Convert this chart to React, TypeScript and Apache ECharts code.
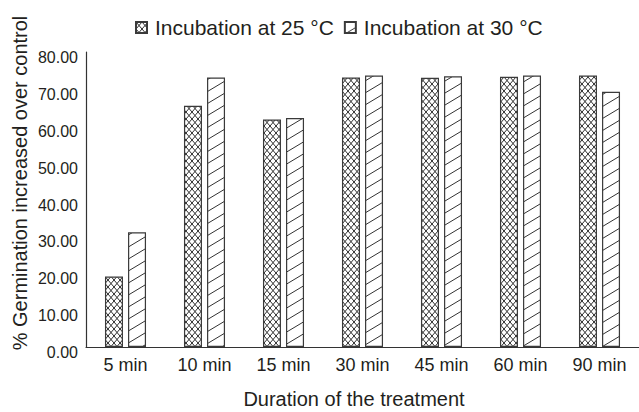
import React, { useEffect, useRef } from "react";
import * as echarts from "echarts";

const categories = ["5 min", "10 min", "15 min", "30 min", "45 min", "60 min", "90 min"];
const seriesNames = ["Incubation at 25 °C", "Incubation at 30 °C"];
const values25 = [19.1, 65.4, 61.7, 73.1, 73.0, 73.3, 73.6];
const values30 = [31.1, 73.1, 62.1, 73.6, 73.4, 73.6, 69.2];
const yTicks = { min: 0, max: 80, interval: 10 };
const xTitle = "Duration of the treatment";
const yTitle = "% Germination increased over control";

const FONT = "'Liberation Sans', Arial, Helvetica, sans-serif";
const INK = "#231f20";

function svgUrl(w: number, h: number, body: string) {
  const s = `<svg xmlns='http://www.w3.org/2000/svg' width='${w}' height='${h}'><rect width='${w}' height='${h}' fill='white'/>${body}</svg>`;
  return "data:image/svg+xml;charset=utf-8," + encodeURIComponent(s);
}

const crossTile = svgUrl(
  6,
  7,
  "<path d='M-1,-1.167 L7,8.167 M-1,8.167 L7,-1.167 M-1,1.167 L1,-1.167 M5,8.167 L7,5.833 M5,-1.167 L7,1.167 M-1,5.833 L1,8.167' stroke='#2e2e2e' stroke-width='1' fill='none'/>"
);
const diagTile = svgUrl(
  20,
  12,
  "<path d='M-4,14.4 L24,-2.4 M-4,2.4 L4,-2.4 M16,14.4 L24,9.6' stroke='#333' stroke-width='1' fill='none'/>"
);

export default function App() {
  const ref = useRef<HTMLDivElement>(null);
  useEffect(() => {
    if (!ref.current) return;
    const chart = echarts.init(ref.current, undefined, { renderer: "svg" });
    const crossFill: any = { image: crossTile, repeat: "repeat", imageWidth: 6, imageHeight: 7 };
    const diagFill: any = { image: diagTile, repeat: "repeat", imageWidth: 20, imageHeight: 12 };
    chart.setOption({
      animation: false,
      backgroundColor: "#ffffff",
      textStyle: { fontFamily: FONT, color: INK },
      legend: {
        left: 130,
        top: 12,
        icon: "rect",
        itemWidth: 11,
        itemHeight: 11,
        itemGap: 10,
        selectedMode: false,
        textStyle: { fontSize: 21, color: INK, fontFamily: FONT, padding: [0, 0, 0, 3] },
        data: seriesNames,
      },
      grid: { left: 86, right: -12, top: 52, bottom: 65, containLabel: false },
      xAxis: {
        type: "category",
        data: categories,
        axisLine: { show: true, lineStyle: { color: "#333", width: 1.2 } },
        axisTick: { show: false },
        axisLabel: { fontSize: 18, color: INK, margin: 9, fontFamily: FONT },
      },
      yAxis: {
        type: "value",
        min: yTicks.min,
        max: yTicks.max,
        interval: yTicks.interval,
        axisLine: { show: true, lineStyle: { color: "#333", width: 1.2 } },
        axisTick: { show: false },
        splitLine: { show: false },
        axisLabel: {
          color: INK,
          margin: 8,
          formatter: (v: number) => "{v|" + v.toFixed(2) + "}",
          rich: {
            v: {
              fontSize: 16,
              color: INK,
              fontFamily: FONT,
              padding: [11, 0, 0, 0],
            },
          },
        },
      },
      graphic: [
        {
          type: "text",
          x: 20,
          y: 183,
          rotation: Math.PI / 2,
          style: {
            text: yTitle,
            fontSize: 20,
            fontFamily: FONT,
            fill: INK,
            align: "center",
            verticalAlign: "middle",
          },
        },
        {
          type: "text",
          x: 354,
          y: 399,
          style: {
            text: xTitle,
            fontSize: 20,
            fontFamily: FONT,
            fill: INK,
            align: "center",
            verticalAlign: "middle",
          },
        },
      ],
      series: [
        {
          name: seriesNames[0],
          type: "bar",
          data: values25,
          barWidth: 18,
          barGap: "28%",
          itemStyle: { color: crossFill, borderColor: "#3a3a3a", borderWidth: 1.2 },
        },
        {
          name: seriesNames[1],
          type: "bar",
          data: values30,
          barWidth: 18,
          barGap: "28%",
          itemStyle: { color: diagFill, borderColor: "#3a3a3a", borderWidth: 1.2 },
        },
      ],
    });
    return () => chart.dispose();
  }, []);
  return (
    <div
      ref={ref}
      style={{ position: "fixed", left: 0, top: 0, width: 639, height: 412 }}
    />
  );
}
